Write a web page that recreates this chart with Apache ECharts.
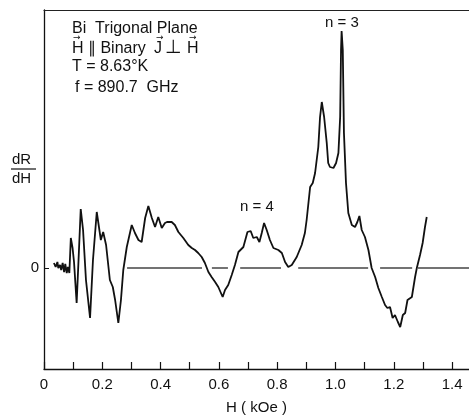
<!DOCTYPE html>
<html>
<head>
<meta charset="utf-8">
<script src="https://cdn.jsdelivr.net/npm/echarts@6/dist/echarts.min.js"></script>
<style>html,body{margin:0;padding:0;background:#fff}#c{width:469px;height:415px}</style>
</head>
<body>
<div id="c"></div>
<script>
// H (kOe) values of the trace
var hValues = [0.034,0.040,0.046,0.049,0.055,0.059,0.064,0.069,0.073,0.078,0.082,0.087,0.092,0.098,0.103,0.112,0.117,0.126,0.134,0.144,
0.158,0.168,0.181,0.195,0.203,0.213,0.226,0.236,0.244,0.255,0.264,0.272,0.284,0.301,0.312,0.324,0.335,0.347,0.358,0.370,
0.381,0.392,0.404,0.415,0.422,0.438,0.449,0.461,0.478,0.495,0.507,0.518,0.529,0.541,0.552,0.564,0.575,0.587,0.598,0.613,
0.621,0.632,0.644,0.655,0.667,0.684,0.698,0.709,0.718,0.730,0.739,0.747,0.755,0.764,0.775,0.787,0.804,0.816,0.827,0.838,
0.850,0.867,0.884,0.895,0.901,0.913,0.922,0.930,0.941,0.947,0.953,0.961,0.970,0.975,0.981,0.993,1.002,1.010,1.016,1.019,
1.021,1.025,1.029,1.036,1.044,1.056,1.067,1.075,1.082,1.090,1.101,1.113,1.124,1.136,1.147,1.159,1.170,1.178,1.187,1.196,
1.204,1.214,1.222,1.231,1.239,1.247,1.262,1.273,1.279,1.290,1.299,1.307,1.313];
// dR/dH (arbitrary units)
var dRdH = [5,1,6,0,3,-2,5,-4,4,-5,1,-5,30,20,6,-35,-2,59,38,-12,
-50,8,56,28,36,23,-12,-19,-32,-55,-32,-2,21,43,35,28,26,50,62,50,
41,51,40,45,46,46,43,36,30,23,20,18,15,11,5,-4,-9,-14,-19,-29,
-22,-17,-7,3,16,21,36,37,30,31,26,35,45,38,28,20,18,15,6,1,
3,11,23,35,48,81,85,95,121,151,166,151,125,105,101,100,105,115,151,218,
237,218,135,85,55,43,41,46,52,38,31,18,0,-9,-20,-29,-37,-40,-39,-50,
-47,-54,-59,-47,-45,-32,-29,-9,0,13,25,41,51];
// dashed zero baseline segments [start, end] in kOe
var zeroSegments = [[0.285,0.542],[0.576,0.631],[0.673,0.813],[0.872,1.112],[1.153,1.263],[1.283,1.458]];
var xTickLabels = ['0','0.2','0.4','0.6','0.8','1.0','1.2','1.4'];
var infoLines = ['Bi  Trigonal Plane', 'H \u2225 Binary', 'T = 8.63\u00B0K', 'f = 890.7  GHz'];
var infoPerp = ['J', '\u22A5', 'H'];

var FONT = '"Liberation Sans", Arial, sans-serif';
var traceData = hValues.map(function (h, i) { return [h, dRdH[i]]; });
var series = [{
  type: 'line', data: traceData, showSymbol: false, smooth: false,
  lineStyle: { color: '#111', width: 1.8 }, z: 5
}];
zeroSegments.forEach(function (s) {
  series.push({ type: 'line', data: [[s[0], 0], [s[1], 0]], showSymbol: false,
    lineStyle: { color: '#444', width: 1.3 }, z: 3 });
});

var graphics = [];
var infoY = [30, 50, 68, 89];
var infoX = [72, 72, 72, 75];
infoLines.forEach(function (t, i) {
  graphics.push({ type: 'text', left: infoX[i], top: infoY[i] - 9,
    style: { text: t, font: '16px ' + FONT, fill: '#111' } });
});
var perpX = [154, 165, 187];
infoPerp.forEach(function (t, i) {
  graphics.push({ type: 'text', left: perpX[i], top: i === 1 ? 39 : 41,
    style: { text: t, font: (i === 1 ? '19px "DejaVu Sans", ' : '16px ') + FONT, fill: '#111' } });
});
// vector arrows over H, J, H
[[72, 36], [155, 36], [188, 36]].forEach(function (p) {
  graphics.push({ type: 'text', left: p[0] + 1, top: p[1] - 3,
    style: { text: '\u2192', font: '9px "DejaVu Sans", ' + FONT, fill: '#111' } });
});
graphics.push({ type: 'text', left: 240, top: 199, style: { text: 'n = 4', font: '15px ' + FONT, fill: '#111' } });
graphics.push({ type: 'text', left: 325, top: 15, style: { text: 'n = 3', font: '15px ' + FONT, fill: '#111' } });
graphics.push({ type: 'text', left: 12, top: 152, style: { text: 'dR', font: '15px ' + FONT, fill: '#111' } });
graphics.push({ type: 'line', shape: { x1: 11, y1: 169, x2: 36, y2: 169 }, style: { stroke: '#111', lineWidth: 1.2 } });
graphics.push({ type: 'text', left: 12, top: 171, style: { text: 'dH', font: '15px ' + FONT, fill: '#111' } });

var chart = echarts.init(document.getElementById('c'), null, { renderer: 'canvas' });
chart.setOption({
  animation: false,
  backgroundColor: '#fff',
  grid: { left: 44, right: 0, top: 10, bottom: 46, containLabel: false, outerBoundsMode: 'none' },
  xAxis: [{
    type: 'value', min: 0, max: 1.458, interval: 0.1,
    axisLine: { onZero: false, lineStyle: { color: '#111', width: 1.3 } },
    axisTick: { inside: true, length: 7, lineStyle: { color: '#111', width: 1.2 } },
    splitLine: { show: false },
    axisLabel: { margin: 8, showMaxLabel: false, color: '#111', fontSize: 15, fontFamily: FONT,
      formatter: function (v) { var k = Math.round(v * 10); return k % 2 === 0 ? xTickLabels[k / 2] || '' : ''; } },
    name: 'H ( kOe )', nameLocation: 'middle', nameGap: 31,
    nameTextStyle: { color: '#111', fontSize: 15, fontFamily: FONT }
  }, {
    type: 'value', position: 'top', min: 0, max: 1.458,
    axisLine: { show: true, onZero: false, lineStyle: { color: '#222', width: 1.2 } },
    axisTick: { show: false }, axisLabel: { show: false }, splitLine: { show: false }
  }],
  yAxis: {
    type: 'value', min: -101, max: 258,
    axisLine: { show: true, onZero: false, lineStyle: { color: '#111', width: 1.3 } },
    axisTick: { show: true, inside: true, length: 5, customValues: [0], lineStyle: { color: '#111' } },
    axisLabel: { show: true, customValues: [0], margin: 5, color: '#111', fontSize: 15, fontFamily: FONT,
      formatter: function () { return '0'; } },
    splitLine: { show: false }
  },
  series: series,
  graphic: graphics
});
</script>
</body>
</html>
